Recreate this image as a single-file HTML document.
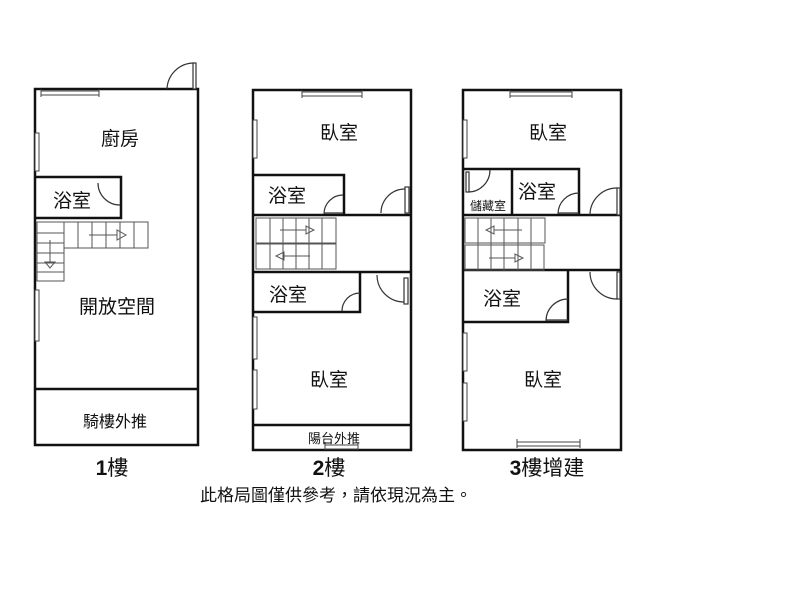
<!DOCTYPE html>
<html><head><meta charset="utf-8"><style>
html,body{margin:0;padding:0;background:#fff;}
svg{display:block;}
text{font-family:"Liberation Sans","Noto Sans CJK TC",sans-serif;fill:#111;}
</style></head><body>
<svg width="800" height="600" viewBox="0 0 800 600" xmlns="http://www.w3.org/2000/svg">
<rect width="800" height="600" fill="#fff"/>
<g fill="none" stroke="#111" stroke-width="2.5">
  <rect x="35" y="89" width="163" height="356"/>
  <line x1="35" y1="389" x2="198" y2="389"/>
  <polyline points="35,177 121,177 121,218 35,218"/>
  <rect x="253" y="90" width="158" height="360"/>
  <polyline points="253,175 344,175 344,215"/>
  <line x1="253" y1="215" x2="411" y2="215"/>
  <line x1="253" y1="272" x2="411" y2="272"/>
  <polyline points="360,272 360,312 253,312"/>
  <line x1="253" y1="425" x2="411" y2="425"/>
  <rect x="463" y="90" width="158" height="360"/>
  <polyline points="463,169 579,169 579,215"/>
  <line x1="512" y1="169" x2="512" y2="215"/>
  <line x1="463" y1="215" x2="621" y2="215"/>
  <line x1="463" y1="270" x2="621" y2="270"/>
  <polyline points="568,270 568,322 463,322"/>
</g>
<g fill="#fff" stroke="#444" stroke-width="1">
  <rect x="41" y="91" width="58" height="4"/>
  <rect x="35" y="133" width="4" height="38"/>
  <rect x="35" y="290" width="4" height="51"/>
  <rect x="302" y="92" width="60" height="4"/>
  <rect x="253" y="120" width="4" height="38"/>
  <rect x="253" y="317" width="4" height="42"/>
  <rect x="253" y="370" width="4" height="39"/>
  <rect x="325" y="445" width="33" height="4"/>
  <rect x="510" y="92" width="62" height="4"/>
  <rect x="463" y="120" width="4" height="38"/>
  <rect x="463" y="333" width="4" height="38"/>
  <rect x="463" y="383" width="4" height="38"/>
  <rect x="517" y="442" width="63" height="4"/>
</g>
<g stroke="#444" stroke-width="1">
  <line x1="41" y1="89" x2="41" y2="97"/><line x1="99" y1="89" x2="99" y2="97"/>
  <line x1="302" y1="90" x2="302" y2="98"/><line x1="362" y1="90" x2="362" y2="98"/>
  <line x1="510" y1="90" x2="510" y2="98"/><line x1="572" y1="90" x2="572" y2="98"/>
  <line x1="517" y1="439" x2="517" y2="448"/><line x1="580" y1="439" x2="580" y2="448"/>
  <line x1="325" y1="442" x2="325" y2="450"/><line x1="358" y1="442" x2="358" y2="450"/>
</g>
<g fill="none" stroke="#333" stroke-width="1.2">
  <path d="M167,89 A27,27 0 0 1 194,63"/>
  <rect x="193" y="63" width="3" height="26" fill="#fff"/>
  <path d="M98,183 A22,22 0 0 0 120,205"/>
  <path d="M324,214 A19,19 0 0 1 343,195"/>
  <line x1="324" y1="213" x2="343" y2="213"/>
  <path d="M381,213 A24,24 0 0 1 405,189"/>
  <rect x="405" y="187" width="4" height="26" fill="#fff"/>
  <path d="M342,311 A18,18 0 0 1 360,293"/>
  <path d="M377,275 A27,27 0 0 0 404,302"/>
  <rect x="404" y="278" width="4" height="26" fill="#fff"/>
  <path d="M558,214 A21,21 0 0 1 579,193"/>
  <line x1="558" y1="213" x2="579" y2="213"/>
  <path d="M590,215 A27,27 0 0 1 617,188"/>
  <rect x="617" y="188" width="3" height="27" fill="#fff"/>
  <path d="M468,192 A22,22 0 0 0 490,170"/>
  <rect x="466" y="172" width="3" height="20" fill="#fff"/>
  <path d="M546,321 A22,22 0 0 1 568,299"/>
  <line x1="546" y1="320" x2="568" y2="320"/>
  <path d="M590,272 A27,27 0 0 0 617,299"/>
  <rect x="617" y="272" width="3" height="27" fill="#fff"/>
</g>
<g fill="none" stroke="#555" stroke-width="1">
  <rect x="37" y="222" width="27" height="59"/>
  <line x1="37" y1="233" x2="64" y2="233"/><line x1="37" y1="243" x2="64" y2="243"/>
  <line x1="37" y1="253" x2="64" y2="253"/><line x1="37" y1="263" x2="64" y2="263"/>
  <line x1="37" y1="272" x2="64" y2="272"/>
  <line x1="50" y1="240" x2="50" y2="262"/><path d="M45,262 L55,262 L50,268 Z"/>
  <rect x="64" y="222" width="84" height="26"/>
  <line x1="78" y1="222" x2="78" y2="248"/><line x1="92" y1="222" x2="92" y2="248"/>
  <line x1="106" y1="222" x2="106" y2="248"/><line x1="120" y1="222" x2="120" y2="248"/>
  <line x1="134" y1="222" x2="134" y2="248"/>
  <line x1="89" y1="235" x2="117" y2="235"/><path d="M117,230 L117,240 L126,235 Z"/>
  <rect x="256" y="218" width="80" height="25"/><rect x="256" y="244" width="80" height="25"/>
  <line x1="270" y1="218" x2="270" y2="269"/><line x1="283" y1="218" x2="283" y2="269"/>
  <line x1="296" y1="218" x2="296" y2="269"/><line x1="309" y1="218" x2="309" y2="269"/>
  <line x1="322" y1="218" x2="322" y2="269"/>
  <line x1="280" y1="230" x2="306" y2="230"/><path d="M306,226 L306,234 L314,230 Z"/>
  <line x1="284" y1="256" x2="310" y2="256"/><path d="M284,252 L284,260 L276,256 Z"/>
  <rect x="465" y="218" width="80" height="25"/><rect x="465" y="245" width="79" height="25"/>
  <line x1="478" y1="218" x2="478" y2="270"/><line x1="491" y1="218" x2="491" y2="270"/>
  <line x1="504" y1="218" x2="504" y2="270"/><line x1="518" y1="218" x2="518" y2="270"/>
  <line x1="531" y1="218" x2="531" y2="270"/>
  <line x1="494" y1="230" x2="522" y2="230"/><path d="M494,226 L494,234 L486,230 Z"/>
  <line x1="489" y1="258" x2="515" y2="258"/><path d="M515,254 L515,262 L523,258 Z"/>
</g>
<g font-size="19" text-anchor="middle">
  <text x="120" y="145">廚房</text>
  <text x="72" y="207">浴室</text>
  <text x="117" y="313">開放空間</text>
  <text x="115" y="427" font-size="16">騎樓外推</text>
  <text x="339" y="139">臥室</text>
  <text x="287" y="202">浴室</text>
  <text x="288" y="301">浴室</text>
  <text x="329" y="386">臥室</text>
  <text x="334" y="443" font-size="13">陽台外推</text>
  <text x="548" y="139">臥室</text>
  <text x="537" y="198">浴室</text>
  <text x="488" y="210" font-size="12">儲藏室</text>
  <text x="502" y="305">浴室</text>
  <text x="543" y="386">臥室</text>
</g>
<g font-size="21" text-anchor="middle">
  <text x="112" y="475"><tspan font-weight="bold">1</tspan>樓</text>
  <text x="329" y="475"><tspan font-weight="bold">2</tspan>樓</text>
  <text x="547" y="475"><tspan font-weight="bold">3</tspan>樓增建</text>
</g>
<text x="336" y="501" font-size="17" text-anchor="middle">此格局圖僅供參考，請依現況為主。</text>
</svg>
</body></html>
